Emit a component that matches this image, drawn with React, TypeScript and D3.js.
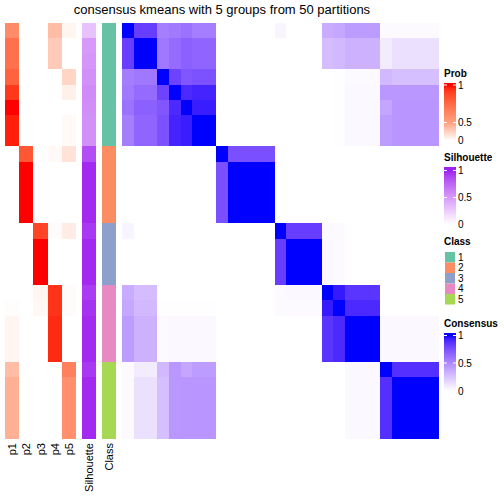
import React from "react";
import * as d3 from "d3";

const title = "consensus kmeans with 5 groups from 50 partitions";
const probNames = ["p1", "p2", "p3", "p4", "p5"];
const classLevels = [1, 2, 3, 4, 5];
const classColors = ["#66C2A5", "#FC8D62", "#8DA0CB", "#E78AC3", "#A6D854"];

// per-sample (row) values, in display order
const p1 = [0.6, 0.72, 0.72, 0.78, 0.92, 1, 0.97, 0.97, 0, 0, 0, 0, 0, 0, 0, 0, 0, 0, 0.01, 0.05, 0.05, 0.05, 0.35, 0.42, 0.42, 0.42, 0.42];
const p2 = [0, 0, 0, 0, 0, 0, 0, 0, 0.82, 1, 1, 1, 1, 0, 0, 0, 0, 0, 0, 0, 0, 0, 0, 0, 0, 0, 0];
const p3 = [0, 0, 0, 0, 0, 0, 0, 0, 0, 0, 0, 0, 0, 0.88, 1, 1, 1, 0.05, 0.04, 0, 0, 0, 0, 0, 0, 0, 0];
const p4 = [0.35, 0.28, 0.28, 0, 0, 0, 0, 0, 0.03, 0, 0, 0, 0, 0.02, 0, 0, 0, 0.93, 0.93, 0.95, 0.95, 0.95, 0, 0, 0, 0, 0];
const p5 = [0.05, 0, 0, 0.22, 0.08, 0, 0.03, 0.03, 0.15, 0, 0, 0, 0, 0.1, 0, 0, 0, 0.02, 0.02, 0, 0, 0, 0.65, 0.58, 0.58, 0.58, 0.58];
const silhouette = [0.3, 0.5, 0.52, 0.55, 0.57, 0.56, 0.55, 0.55, 0.85, 0.98, 0.98, 0.98, 0.98, 0.93, 0.98, 0.98, 0.98, 0.92, 0.95, 0.98, 0.98, 0.98, 0.93, 0.98, 0.98, 0.98, 0.98];
const sampleClass = [1, 1, 1, 1, 1, 1, 1, 1, 2, 2, 2, 2, 2, 3, 3, 3, 3, 4, 4, 4, 4, 4, 5, 5, 5, 5, 5];

const consensus = [
  [1, .82, .82, .55, .57, .6, .55, .55, 0, 0, 0, 0, 0, .04, 0, 0, 0, .35, .37, .42, .42, .42, .02, .02, .02, .02, .02],
  [.82, 1, 1, .58, .63, .68, .66, .66, 0, 0, 0, 0, 0, 0, 0, 0, 0, .28, .3, .33, .33, .33, .08, .13, .13, .13, .13],
  [.82, 1, 1, .58, .63, .68, .66, .66, 0, 0, 0, 0, 0, 0, 0, 0, 0, .28, .3, .33, .33, .33, .08, .13, .13, .13, .13],
  [.55, .58, .58, 1, .8, .72, .74, .74, 0, 0, 0, 0, 0, 0, 0, 0, 0, 0, .01, .02, .02, .02, .3, .27, .27, .27, .27],
  [.57, .63, .63, .8, 1, .9, .92, .92, 0, 0, 0, 0, 0, 0, 0, 0, 0, 0, .01, .03, .03, .03, .44, .44, .44, .44, .44],
  [.6, .68, .68, .72, .9, 1, .94, .94, 0, 0, 0, 0, 0, 0, 0, 0, 0, 0, .01, .03, .03, .03, .38, .45, .45, .45, .45],
  [.55, .66, .66, .74, .92, .94, 1, 1, 0, 0, 0, 0, 0, 0, 0, 0, 0, 0, .01, .03, .03, .03, .42, .45, .45, .45, .45],
  [.55, .66, .66, .74, .92, .94, 1, 1, 0, 0, 0, 0, 0, 0, 0, 0, 0, 0, .01, .03, .03, .03, .42, .45, .45, .45, .45],
  [0, 0, 0, 0, 0, 0, 0, 0, 1, .75, .75, .75, .75, 0, 0, 0, 0, 0, 0, 0, 0, 0, 0, 0, 0, 0, 0],
  [0, 0, 0, 0, 0, 0, 0, 0, .75, 1, 1, 1, 1, 0, 0, 0, 0, 0, 0, 0, 0, 0, 0, 0, 0, 0, 0],
  [0, 0, 0, 0, 0, 0, 0, 0, .75, 1, 1, 1, 1, 0, 0, 0, 0, 0, 0, 0, 0, 0, 0, 0, 0, 0, 0],
  [0, 0, 0, 0, 0, 0, 0, 0, .75, 1, 1, 1, 1, 0, 0, 0, 0, 0, 0, 0, 0, 0, 0, 0, 0, 0, 0],
  [0, 0, 0, 0, 0, 0, 0, 0, .75, 1, 1, 1, 1, 0, 0, 0, 0, 0, 0, 0, 0, 0, 0, 0, 0, 0, 0],
  [.04, 0, 0, 0, 0, 0, 0, 0, 0, 0, 0, 0, 0, 1, .82, .82, .82, .02, .02, 0, 0, 0, 0, 0, 0, 0, 0],
  [0, 0, 0, 0, 0, 0, 0, 0, 0, 0, 0, 0, 0, .82, 1, 1, 1, .03, .02, 0, 0, 0, 0, 0, 0, 0, 0],
  [0, 0, 0, 0, 0, 0, 0, 0, 0, 0, 0, 0, 0, .82, 1, 1, 1, .03, .02, 0, 0, 0, 0, 0, 0, 0, 0],
  [0, 0, 0, 0, 0, 0, 0, 0, 0, 0, 0, 0, 0, .82, 1, 1, 1, .03, .02, 0, 0, 0, 0, 0, 0, 0, 0],
  [.35, .28, .28, 0, 0, 0, 0, 0, 0, 0, 0, 0, 0, .02, .03, .03, .03, 1, .95, .86, .86, .86, 0, 0, 0, 0, 0],
  [.37, .3, .3, .01, .01, .01, .01, .01, 0, 0, 0, 0, 0, .02, .02, .02, .02, .95, 1, .9, .9, .9, 0, 0, 0, 0, 0],
  [.42, .33, .33, .02, .03, .03, .03, .03, 0, 0, 0, 0, 0, 0, 0, 0, 0, .86, .9, 1, 1, 1, .03, .03, .03, .03, .03],
  [.42, .33, .33, .02, .03, .03, .03, .03, 0, 0, 0, 0, 0, 0, 0, 0, 0, .86, .9, 1, 1, 1, .03, .03, .03, .03, .03],
  [.42, .33, .33, .02, .03, .03, .03, .03, 0, 0, 0, 0, 0, 0, 0, 0, 0, .86, .9, 1, 1, 1, .03, .03, .03, .03, .03],
  [.02, .08, .08, .3, .44, .38, .42, .42, 0, 0, 0, 0, 0, 0, 0, 0, 0, 0, 0, .03, .03, .03, 1, .88, .88, .88, .88],
  [.02, .13, .13, .27, .44, .45, .45, .45, 0, 0, 0, 0, 0, 0, 0, 0, 0, 0, 0, .03, .03, .03, .88, 1, 1, 1, 1],
  [.02, .13, .13, .27, .44, .45, .45, .45, 0, 0, 0, 0, 0, 0, 0, 0, 0, 0, 0, .03, .03, .03, .88, 1, 1, 1, 1],
  [.02, .13, .13, .27, .44, .45, .45, .45, 0, 0, 0, 0, 0, 0, 0, 0, 0, 0, 0, .03, .03, .03, .88, 1, 1, 1, 1],
  [.02, .13, .13, .27, .44, .45, .45, .45, 0, 0, 0, 0, 0, 0, 0, 0, 0, 0, 0, .03, .03, .03, .88, 1, 1, 1, 1],
];

const legendBreaks = [0, 0.5, 1];
const legendBreakLabels = ["0", "0.5", "1"];

const FONT = "'Liberation Sans', Arial, Helvetica, sans-serif";

export default function App() {
  const W = 504, H = 504;
  const n = sampleClass.length;
  const rowIdx = d3.range(n);
  const y = d3.scaleBand<number>().domain(rowIdx).range([23, 439]);
  const xProb = d3.scaleBand<string>().domain(probNames).range([5, 76]);
  const xSil = [82, 96];
  const xCls = [102, 116];
  const xMat = d3.scaleBand<number>().domain(rowIdx).range([122, 439]);

  const probColor = d3.scaleLinear<string>().domain([0, 1]).range(["white", "red"]).interpolate(d3.interpolateLab);
  const silColor = d3.scaleLinear<string>().domain([0, 1]).range(["white", "#A020F0"]).interpolate(d3.interpolateLab);
  const consColor = d3.scaleLinear<string>().domain([0, 1]).range(["white", "blue"]).interpolate(d3.interpolateLab);
  const clsColor = d3.scaleOrdinal<number, string>().domain(classLevels).range(classColors);

  const probs = [p1, p2, p3, p4, p5];

  const bh = y.bandwidth();

  // legends
  const lx = 444;
  const barW = 12;
  const contLegends = [
    { name: "Prob", id: "gProb", titleY: 77, color: probColor, pos: [140.5, 122.5, 85] },
    { name: "Silhouette", id: "gSil", titleY: 161, color: silColor, pos: [224.5, 197.5, 170.5] },
    { name: "Consensus", id: "gCons", titleY: 327, color: consColor, pos: [391, 363, 335.5] },
  ];

  return (
    <svg width={W} height={H} style={{ position: "absolute", left: 0, top: 0 }} fontFamily={FONT}>
      <rect x={0} y={0} width={W} height={H} fill="white" />
      {contLegends.map((l) => {
        const top = l.titleY + 6;
        const bottom = top + 58;
        const ly = d3.scaleLinear().domain(legendBreaks).range(l.pos).clamp(true);
        return (
          <defs key={l.id + "d"}>
            <linearGradient id={l.id} x1="0" y1="1" x2="0" y2="0">
              {d3.range(0, 1.0001, 0.05).map((t) => (
                <stop key={t} offset={Math.max(0, Math.min(1, (bottom - ly(t)) / (bottom - top)))} stopColor={l.color(t)} />
              ))}
            </linearGradient>
          </defs>
        );
      })}
      <text x={222} y={14} textAnchor="middle" fontSize={13} fill="black">{title}</text>

      <g shapeRendering="crispEdges">
        {probs.map((arr, j) =>
          arr.map((v, i) => (
            <rect key={`p${j}-${i}`} x={xProb(probNames[j])} y={y(i)} width={xProb.bandwidth()} height={bh} fill={probColor(v)} />
          ))
        )}
        {silhouette.map((v, i) => (
          <rect key={`s${i}`} x={xSil[0]} y={y(i)} width={xSil[1] - xSil[0]} height={bh} fill={silColor(v)} />
        ))}
        {sampleClass.map((c, i) => (
          <rect key={`c${i}`} x={xCls[0]} y={y(i)} width={xCls[1] - xCls[0]} height={bh} fill={clsColor(c)} />
        ))}
        {consensus.map((row, i) =>
          row.map((v, j) => (
            <rect key={`m${i}-${j}`} x={xMat(j)} y={y(i)} width={xMat.bandwidth()} height={bh} fill={consColor(v)} />
          ))
        )}
      </g>

      {/* column labels */}
      {probNames.map((p) => (
        <text key={p} transform={`translate(${(xProb(p) as number) + xProb.bandwidth() / 2 + 4},443) rotate(-90)`} textAnchor="end" fontSize={11}>{p}</text>
      ))}
      <text transform={`translate(${(xSil[0] + xSil[1]) / 2 + 4},443) rotate(-90)`} textAnchor="end" fontSize={11}>Silhouette</text>
      <text transform={`translate(${(xCls[0] + xCls[1]) / 2 + 4},443) rotate(-90)`} textAnchor="end" fontSize={11}>Class</text>

      {/* continuous legends */}
      {contLegends.map((l) => {
        const top = l.titleY + 6;
        const ly = d3.scaleLinear().domain(legendBreaks).range(l.pos);
        return (
          <g key={l.id}>
            <text x={lx} y={l.titleY} fontSize={10} fontWeight="bold">{l.name}</text>
            <rect x={lx} y={top} width={barW} height={58} fill={`url(#${l.id})`} />
            {legendBreaks.map((b, k) => (
              <g key={k}>
                <line x1={lx} x2={lx + 3} y1={ly(b)} y2={ly(b)} stroke="white" strokeWidth={1} />
                <line x1={lx + barW - 3} x2={lx + barW} y1={ly(b)} y2={ly(b)} stroke="white" strokeWidth={1} />
                <text x={lx + barW + 2} y={ly(b)} dy="0.35em" fontSize={10}>{legendBreakLabels[k]}</text>
              </g>
            ))}
          </g>
        );
      })}

      {/* class legend */}
      <text x={lx} y={245} fontSize={10} fontWeight="bold">Class</text>
      {classLevels.map((c, k) => (
        <g key={c}>
          <rect x={lx + 1} y={252 + k * 10.5} width={10} height={10.5} fill={clsColor(c)} />
          <text x={lx + barW + 2} y={252 + k * 10.5 + 5.25} dy="0.35em" fontSize={10}>{c}</text>
        </g>
      ))}
    </svg>
  );
}
